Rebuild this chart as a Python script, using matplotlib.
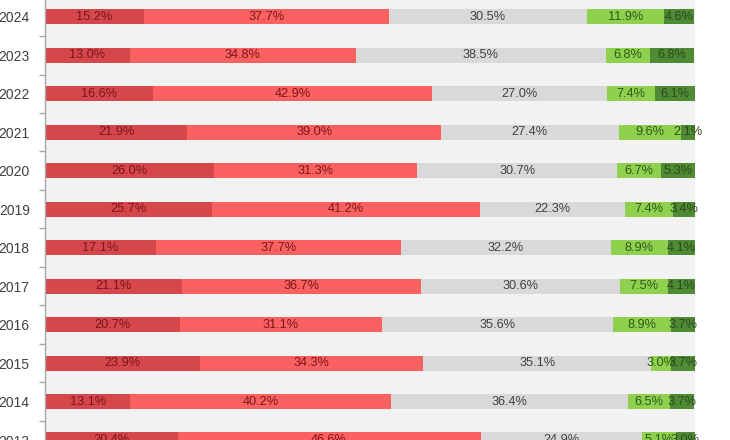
import matplotlib
matplotlib.use("Agg")
import matplotlib.pyplot as plt
import numpy as np

years = ["2024", "2023", "2022", "2021", "2020", "2019", "2018", "2017", "2016", "2015", "2014", "2013"]
seg1 = [15.2, 13.0, 16.6, 21.9, 26.0, 25.7, 17.1, 21.1, 20.7, 23.9, 13.1, 20.4]
seg2 = [37.7, 34.8, 42.9, 39.0, 31.3, 41.2, 37.7, 36.7, 31.1, 34.3, 40.2, 46.6]
seg3 = [30.5, 38.5, 27.0, 27.4, 30.7, 22.3, 32.2, 30.6, 35.6, 35.1, 36.4, 24.9]
seg4 = [11.9, 6.8, 7.4, 9.6, 6.7, 7.4, 8.9, 7.5, 8.9, 3.0, 6.5, 5.1]
seg5 = [4.6, 6.8, 6.1, 2.1, 5.3, 3.4, 4.1, 4.1, 3.7, 3.7, 3.7, 3.0]

series = [seg1, seg2, seg3, seg4, seg5]
colors = ["#d6474c", "#fb6161", "#d9d9d9", "#8fd14f", "#4f8a34"]
text_colors = ["#7a1518", "#7a1518", "#404040", "#2b5a18", "#2b4a1c"]

W, H = 730, 440
fig = plt.figure(figsize=(W / 100, H / 100), dpi=100)
ax = fig.add_axes([45 / W, 0, 650 / W, 1])
ax.set_facecolor("#f2f2f2")

y = np.arange(len(years))
left = np.zeros(len(years))
for vals, c, tc in zip(series, colors, text_colors):
    v = np.array(vals)
    ax.barh(y, v, left=left, height=0.39, color=c, edgecolor="none")
    for yi, (l, w) in enumerate(zip(left, v)):
        ax.text(l + w / 2, yi, f"{w:.1f}%", ha="center", va="center",
                fontsize=9.2, color=tc, family="Liberation Sans")
    left = left + v

ax.set_xlim(0, 100)
top = -17 / 38.85
bottom = (440 - 17) / 38.85
ax.set_ylim(bottom, top)

ax.set_xticks([])
ax.set_yticks(y)
ax.set_yticklabels(years, fontsize=10, color="#404040", family="Liberation Sans")
ax.tick_params(axis="y", which="major", length=0, pad=11)
ax.set_yticks(y[:-1] + 0.5, minor=True)
ax.tick_params(axis="y", which="minor", length=4, color="#a6a6a6", width=1)

for s in ["top", "right", "bottom"]:
    ax.spines[s].set_visible(False)
ax.spines["left"].set_color("#a6a6a6")
ax.spines["left"].set_linewidth(1)

fig.savefig("out.png", dpi=100, facecolor="white")
